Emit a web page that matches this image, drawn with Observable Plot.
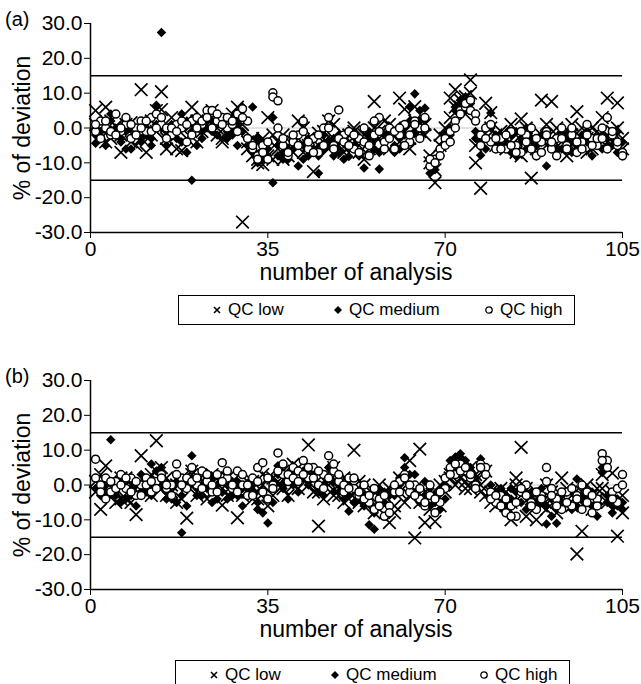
<!DOCTYPE html>
<html><head><meta charset="utf-8">
<script src="https://cdn.jsdelivr.net/npm/d3@7"></script>
<script src="https://cdn.jsdelivr.net/npm/@observablehq/plot@0.6"></script>
<style>
body{margin:0;background:#fff;font-family:"Liberation Sans",Arial,sans-serif;color:#000;}
#wrap{position:relative;width:641px;height:684px;overflow:hidden;background:#fff;}
.panel{position:absolute;left:0;width:641px;height:285px;}
.tag{position:absolute;left:5px;font-size:20px;line-height:22px;}
.ylab{position:absolute;width:220px;text-align:center;font-size:23px;line-height:26px;transform:rotate(-90deg);}
.xlab{position:absolute;left:90px;width:532px;text-align:center;font-size:23px;line-height:26px;}
.legend{position:absolute;border:1.5px solid #000;box-sizing:border-box;font-size:17px;}
.legend span.it{position:absolute;top:50%;transform:translateY(-50%);white-space:nowrap;display:flex;align-items:center;gap:6px;}
</style>
</head><body>
<div id="wrap"></div>
<script>
// ---------- data (x = analysis number 1..105) ----------
const xTicks = [0, 35, 70, 105];
const yTicks = [-30, -20, -10, 0, 10, 20, 30];
const limits = [15, -15];
const seriesNames = ["QC low", "QC medium", "QC high"];

// Panel (a)
const aLow1 = [5,-2,6,-3,0.5,-7,1,-4,-2,11, -7,2,-1,10.4,-3,3,-6,-6.5,2,6, -4,3,1,5,0,-3,2,4,1,-27,
  -4,-8,-10,-3,3,-9,-6,-2,-8,-4, 2,-7,-3,-12.5,-5,-1,-6,1,-4,-7, -2,0,-5,-9,-3,7.6,-1,2,-6,0,
  8.6,5.4,-3,6.1,-1,1,-10,-15.7,-5,-3, 8.6,11,6,9,13.8,-10,-17.3,7.1,4.4,-2, -4,-6,1,-7,2.6,-3,-14.4,-5,8,1,
  7.6,-2,-6,-4,1,4.7,-3,-7,0,-5, 3,8.6,-1,7.2,-6];
const aLow2 = [1,-3,-4,2,-1,-2,0,1.5,-5,-3, 1,-2,5,5.3,-6,-1,-2,0,-3,1, 2,-1,0,3,-2,-4,-1,2,6,1,
  -6,-3,-9,-10.5,-8,-2,-4,-9,-5,-7, -3,0,-5,-6,-1.5,-4,2,-3,-5,-2, -4,-1,-7,-2,-6,0,-3,-5,1,-2,
  -4,-1,-6,2,0,-2,-8,-12,-2,0, 3,6,8,4,10,-5,-2,-3,0,-5, -1,-3,-5,-2,-8,0,-4,-6,-2,-5,
  -3,0,-4,-8,-2,-5,0,-3,-6,-1, -4,-2,-5,0,-3];
const aMed1 = [-4.4,-1,0,4,-2,-3,-1,-6,-2,-4, 0,-5,6.5,27.4,-1,1,-3,4,-7,-15, -5,-1,0,2,-2,3,-1,0,-5,6,
  -5,6,-3,-9,-6,-15.7,-8,-9,-6,-3, -10.9,-5,-8,-7,-13,-6,-4,-8,-2,-9, -8.2,-5,-3,-11.5,-2,-6,-11.8,-4,-1,-7,
  -3,0,6.1,9.8,2,5.7,-13,-10,-8,-5, -2,6,8,9,7,-1,-7.8,-3,4.3,-5, -6,-4,-2,-8,-3,0,-6,-5,-2,-10.9,
  -4,-6,-1,-3,-7,-5,-2,-4,-8,-3, -2,-5,-3,-1,-8];
const aMed2 = [-2,-3,-5,2,0,-4,-6,0,-1,-3, -2,-3,1,0,-5,-2,0,-4,2,-1, 0,-3,2,-1,1,2,-3,-2,1,-1,
  -3,-7,-10,-4,-8,3,-5,-7,-9,-6, -5,-9,-3,-6,-8,-2,-5,-3,-7,-4, -6,-2,-8,-4,-1,-3,-7,-2,0,-5,
  -6,-2,2,-1,5,3,-9,-12,-6,-2, 0,5,7,6,8,-3,-4,-6,0,-2, -3,-5,-7,-1,-4,-6,-3,-8,-4,-2,
  -5,-3,-6,-2,-4,-7,-3,-1,-5,-4, -6,-3,-5,-7,-4];
const aHigh1 = [-1,2,0,-2,4,-1,1,-3,0,2, -1,3,4,1,0,-2,1,0,-4,2, 3,1,5,5,2,3,0,1,4,5.5,
  2,-6,-8,-5,-9,10.1,0,-5,-8,-4, -2,2,-6,-3,-7,0,3,-5,5.2,-2, -1,-6,-3,0,-8,-2,3,-4,0,-6,
  -2,1,-4,2,0,3,-11,-9,-6,-3, -1,2,5,6,5,4,-2,0,-4,-6, -3,-6,-1,-5,-7,-2,0,-8,-4,-1,
  -6,-3,0,-5,-2,-7,-4,1,-3,-5, 0,3,-2,-5,-7];
const aHigh2 = [1,-3,2,-1,-2,0,3,1,-2,0, 2,-1,0,3,-3,0,-1,2,1,-2, 0,2,3,0,4,1,3,2,-1,3,
  -3,-5,-9,-7,-4,8.9,7.8,-3,-7,-2, -5,-1,-4,-7,-2,-5,0,-6,-3,-4, -5,-2,-7,-4,-5,2,-1,-6,-3,-1,
  0,-5,-2,1,-3,0,-9,-10,-8,-5, -4,0,4,7,8,2,-5,-3,1,-3, -6,-2,-5,-7,-1,-4,-6,-3,-7,-2,
  -4,-8,-3,-6,0,-4,-6,-2,-5,-3, -3,-6,-1,-4,-8];

// Panel (b)
const bLow1 = [1,-7,5.5,-3,-5,2,-4,0,-8.5,8.4, -2,3,12.7,5,-3,0,-5,2,-9.5,4, 1,-2,-4,3,-1,-5.8,2,0,-9.4,-3,
  1,-4,-2,3,-6,2,0,4,-3,6, 5,2,11.5,-2,-11.8,3,0,5,-3,2, -4,10,1,-6,-3,-8,0,-2,-10.8,-6,
  2,-5,7,-15.2,10.3,-10.8,-3,-10.5,-6,1, 3,6,2,-1,5,3,-2,4,-5,-3, -1,-6,-10,2,10.8,-9,-3,-10,-6,0,
  -4,-8,2,-6,-3,-19.8,-13.3,0,-7,-4, 3,-5,3.4,-14.7,-8];
const bLow2 = [-2,3,-1,1,-2,-4,2,-5,0,-1, 1,-3,4,-1,2,-2,0,-4,1,3, -3,1,0,-2,2,-1,-3,1,-2,0,
  -2,1,-4,0,2,-3,1,-1,3,0, -1,3,0,2,-2,-4,1,-3,0,-5, 1,-2,-5,0,-4,-2,-7,-3,-1,-8,
  -2,1,-3,-1,-5,-2,-7,-4,0,-2, 2,0,4,1,-1,2,0,-3,-2,-6, -4,-2,-5,0,-3,-1,-4,-2,-5,-7,
  -2,-5,-3,-1,-6,-4,-2,-5,-3,-1, -1,-4,-2,-6,-3];
const bMed1 = [2,-3,0,13,-2,-5,1,-3,-6,3, -2,6,0,5,-4,-1,-5,-13.7,-6,8.4, -1,-3,2,-5,0,-2,-4,1,-3,-6,
  0,-2,-7,-8,-10.9,-5,5.5,0,-4,3, 1,4,2,3,-2,0,5,1,-2,-4, -7.5,-1,-4,-3,-11.4,-12.7,-5,-2,-8,-3,
  0,7.8,3,-2,-5,1,-6,-3,-7,-1, 7,8,9,6,5,2,7.5,3,-2,-4, -3,-6,-1,-5,-2,-7,-4,-6,-3,-11.2,
  -9,-11,-5,-2,-7,1.7,-4,-3,-6,-9, 3.6,-5,-8,-6,-5];
const bMed2 = [-1,0,-2,1,-3,2,-4,-1,0,-2, 1,-3,4,0,-2,-4,1,-3,0,2, -3,0,-1,2,-4,-2,0,-3,1,-1,
  -3,0,-5,-2,-4,1,3,-1,2,0, -2,2,0,4,-1,-3,2,-2,0,-1, -3,-5,-2,-6,-4,-8,-2,-5,-3,0,
  2,5,0,3,-1,-3,-1,-5,-2,-4, 5,6,8,7,4,1,6,5,0,-2, -1,-3,-4,-2,-5,-3,-2,-5,-1,-6,
  -4,-7,-3,-5,-2,-6,-3,-5,-2,-4, 5,-3,-6,-4,-7];
const bHigh1 = [7.4,0,2,-2,1,3,-1,2,-3,0, 2,-2,1,3,-1,0,6,2,-1,5, 0,4,1,-2,3,6.4,2,-1,4,0,
  -3,2,5,6.4,-4,0,9.2,3,1,5, 4,7,2,5,0,3,8.4,4,1,-2, 2,-1,-3,0,-5,-7,-4,-9,-6,-2,
  1,3,-2,0,-4,-6,-3,-8,-5,-1, 5,3,6,4,2,0,6,5,-2,-5, -3,-8,-6,-9,-2,0,-5,-7,-3,5,
  -1,-4,-7,-2,-6,-3,0,-5,-8,-4, 9,7,-2,-5,3];
const bHigh2 = [2,-2,-4,1,-1,0,2,-2,1,-3, 0,1,-1,2,0,-3,3,0,2,1, 2,-1,3,0,-2,1,4,0,-2,3,
  0,-3,1,-2,2,-1,4,6,3,2, 1,3,5,2,4,-1,2,6,3,0, -1,2,-2,-4,-3,-1,-6,-3,-8,0,
  -2,2,0,-3,-1,-5,0,-4,-2,2, 3,6,4,5,3,-1,5,3,-4,-3, -6,-4,-9,-5,-1,-3,-6,-2,-4,1,
  -3,-6,-2,-5,-1,-4,-7,-2,-3,-6, 7,5,-4,-1,0];

// ---------- build ----------
const FONT = '"Liberation Sans", Arial, sans-serif';
function rows(arrs, s) {
  return arrs.flatMap(a => a.map((v, i) => ({x: i + 1, y: v, s})));
}
function panel(low, med, high) {
  const L = rows(low, seriesNames[0]), M = rows(med, seriesNames[1]), H = rows(high, seriesNames[2]);
  return Plot.plot({
    width: 641, height: 285,
    marginLeft: 90, marginRight: 19, marginTop: 23, marginBottom: 53,
    style: {fontFamily: FONT, fontSize: "21px", color: "#000", background: "transparent", overflow: "visible"},
    x: {domain: [0, 105], ticks: xTicks, tickFormat: d => String(d), tickSize: 6, tickPadding: 3, label: null},
    y: {domain: [-30, 30], ticks: yTicks, tickFormat: d => d.toFixed(1), tickSize: 6, tickPadding: 2, label: null},
    marks: [
      Plot.ruleY([0], {stroke: "#c8c8c8", strokeWidth: 1.2}),
      Plot.ruleY(limits, {x1: 0, x2: 105, stroke: "#000", strokeWidth: 1.6}),
      Plot.ruleX([0], {y1: -30, y2: 30, stroke: "#000", strokeWidth: 1.5}),
      Plot.ruleY([-30], {x1: 0, x2: 105, stroke: "#000", strokeWidth: 1.5}),
      Plot.dot(L, {x: "x", y: "y", symbol: "times", r: 5.8, stroke: "#000", strokeWidth: 1.7}),
      Plot.dot(M, {x: "x", y: "y", symbol: "diamond2", r: 4.3, fill: "#000", stroke: "none"}),
      Plot.dot(H, {x: "x", y: "y", symbol: "circle", r: 4, fill: "#fff", stroke: "#000", strokeWidth: 1.5})
    ]
  });
}
const icons = {
  "QC low": '<svg width="10" height="10"><path d="M2,2L8,8M8,2L2,8" stroke="#000" stroke-width="1.6"/></svg>',
  "QC medium": '<svg width="10" height="10"><path d="M5,1L9,5L5,9L1,5Z" fill="#000"/></svg>',
  "QC high": '<svg width="10" height="10"><circle cx="5" cy="5" r="3.2" fill="#fff" stroke="#000" stroke-width="1.3"/></svg>'
};
function addPanel(top, tag, low, med, high, legTop, legLeft, legW, pos) {
  const wrap = document.getElementById("wrap");
  const p = document.createElement("div");
  p.className = "panel"; p.style.top = top + "px";
  p.appendChild(panel(low, med, high));
  wrap.appendChild(p);
  const t = document.createElement("div");
  t.className = "tag"; t.style.top = (top + 8) + "px"; t.textContent = tag;
  wrap.appendChild(t);
  const yl = document.createElement("div");
  yl.className = "ylab"; yl.textContent = "% of deviation";
  yl.style.left = (22 - 110) + "px"; yl.style.top = (top + 128 - 13) + "px";
  wrap.appendChild(yl);
  const xl = document.createElement("div");
  xl.className = "xlab"; xl.textContent = "number of analysis";
  xl.style.top = (top + 259) + "px";
  wrap.appendChild(xl);
  const lg = document.createElement("div");
  lg.className = "legend";
  lg.style.top = legTop + "px"; lg.style.left = legLeft + "px"; lg.style.width = legW + "px"; lg.style.height = "30px";
  seriesNames.forEach((n, i) => {
    const s = document.createElement("span");
    s.className = "it"; s.style.left = pos[i] + "px";
    s.innerHTML = icons[n];
    const tx = document.createElement("span"); tx.textContent = n;
    s.appendChild(tx);
    lg.appendChild(s);
  });
  wrap.appendChild(lg);
}
addPanel(0, "(a)", [aLow1, aLow2], [aMed1, aMed2], [aHigh1, aHigh2], 295, 178, 397, [33, 154, 305]);
addPanel(357, "(b)", [bLow1, bLow2], [bMed1, bMed2], [bHigh1, bHigh2], 660, 175, 395, [33, 154, 303]);
</script>
</body></html>
